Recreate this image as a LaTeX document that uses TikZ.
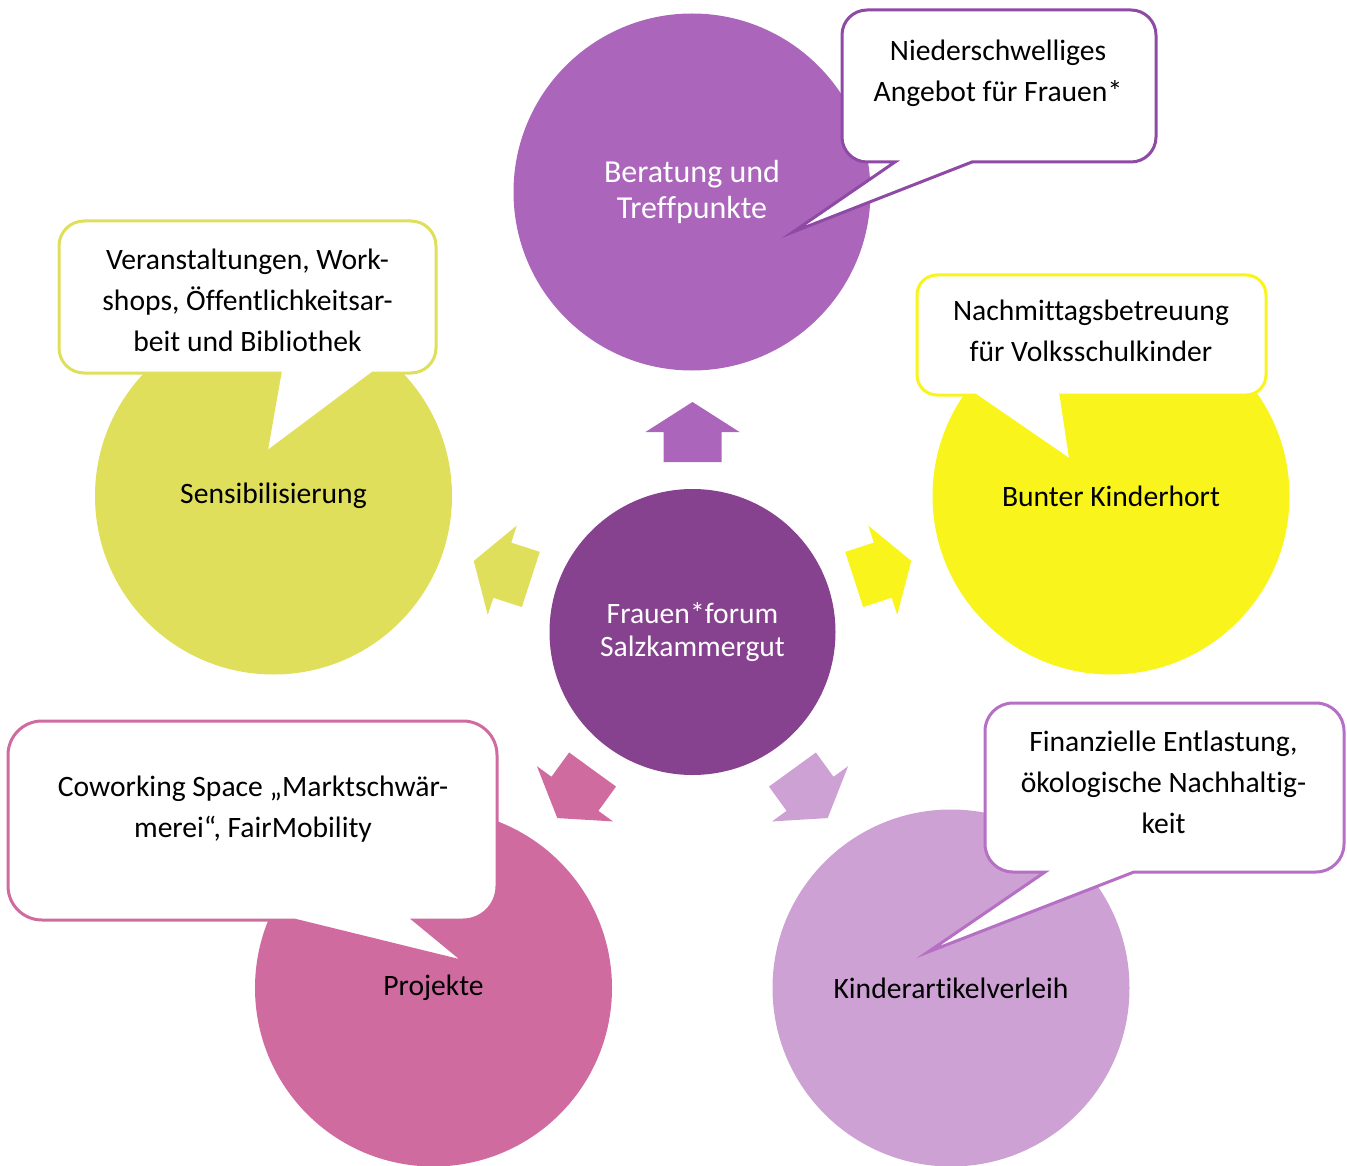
\documentclass[tikz,border=0pt]{standalone}
\usepackage{fontspec}
\setmainfont{Carlito}[Ligatures=NoCommon]
\definecolor{cTop}{HTML}{AB66BC}
\definecolor{cCenter}{HTML}{86418F}
\definecolor{cLeft}{HTML}{DFDF5B}
\definecolor{cRight}{HTML}{F8F41C}
\definecolor{cBL}{HTML}{D06BA0}
\definecolor{cBR}{HTML}{CDA1D4}
\definecolor{bTR}{HTML}{8E4AA4}
\definecolor{bBR}{HTML}{B56FC4}
\newcommand\callout[9]{%
  \draw[callbox,draw=#1] (#2+#6,#3) -- (#4-#6,#3) arc[start angle=90,end angle=0,radius=#6]
    -- (#4,#5+#6) arc[start angle=0,end angle=-90,radius=#6]
    -- (#8,#5) -- #9 -- (#7,#5)
    -- (#2+#6,#5) arc[start angle=270,end angle=180,radius=#6]
    -- (#2,#3-#6) arc[start angle=180,end angle=90,radius=#6] -- cycle;}
\newcommand\blockarrow[2]{%
  \begin{scope}[shift={(ctr.center)},rotate=#1]
    \fill[#2] (170,-29) -- (200,-29) -- (200,-47) -- (230,0) -- (200,47) -- (200,29) -- (170,29) -- cycle;
  \end{scope}}
\begin{document}
\begin{tikzpicture}[x=1pt,y=1pt,
  bigcirc/.style={circle,minimum size=357pt,inner sep=0pt,align=center,font=\fontsize{29.6}{36}\selectfont},
  callbox/.style={fill=white,line width=3pt,line join=miter},
  calltext/.style={align=center,inner sep=0pt,font=\fontsize{29.6}{41}\selectfont}]
\useasboundingbox (0,0) rectangle (1347,-1166);
% circles
\node[bigcirc,fill=cTop,text=white,font=\fontsize{32}{36}\selectfont] (top) at (692,-192) {Beratung und\\Treffpunkte};
\node[bigcirc,fill=cLeft] (left) at (273.5,-496) {Sensibilisierung};
\node[bigcirc,fill=cRight] (right) at (1111,-496) {Bunter Kinderhort};
\node[bigcirc,fill=cBL] (bl) at (433.5,-988) {Projekte};
\node[bigcirc,fill=cBR] (br) at (951,-988) {Kinderartikelverleih};
\node[circle,minimum size=286pt,inner sep=0pt,fill=cCenter,text=white,align=center,
  font=\fontsize{29.6}{33}\selectfont] (ctr) at (692.5,-632) {Frauen*forum\\Salzkammergut};
% block arrows
\blockarrow{90}{cTop}
\blockarrow{162}{cLeft}
\blockarrow{18}{cRight}
\blockarrow{234}{cBL}
\blockarrow{306}{cBR}
% callouts
\callout{bTR}{842}{-10}{1156}{-162}{25}{895}{972}{(793,-232)}
\callout{cLeft}{59}{-221}{436}{-373}{25}{280}{373}{(266,-453)}
\callout{cRight}{917}{-275}{1266}{-395}{20}{975}{1061}{(1071,-461)}
\callout{cBL}{8}{-721}{497}{-920}{34}{294}{414}{(465,-962)}
\callout{bBR}{985}{-703}{1344}{-872}{28}{1045}{1134}{(928,-952)}
% callout texts
\node[calltext] (t1) at (998,-73) {Niederschwelliges\\Angebot für Frauen*};
\node[calltext] (t2) at (247.5,-300) {Veranstaltungen, Work-\\shops, Öffentlichkeitsar-\\beit und Bibliothek};
\node[calltext] (t3) at (1091,-331) {Nachmittagsbetreuung\\für Volksschulkinder};
\node[calltext] (t4) at (253,-809) {Coworking Space „Marktschwär-\\merei“, FairMobility};
\node[calltext] (t5) at (1163.5,-782) {Finanzielle Entlastung,\\ökologische Nachhaltig-\\keit};
\end{tikzpicture}
\end{document}
